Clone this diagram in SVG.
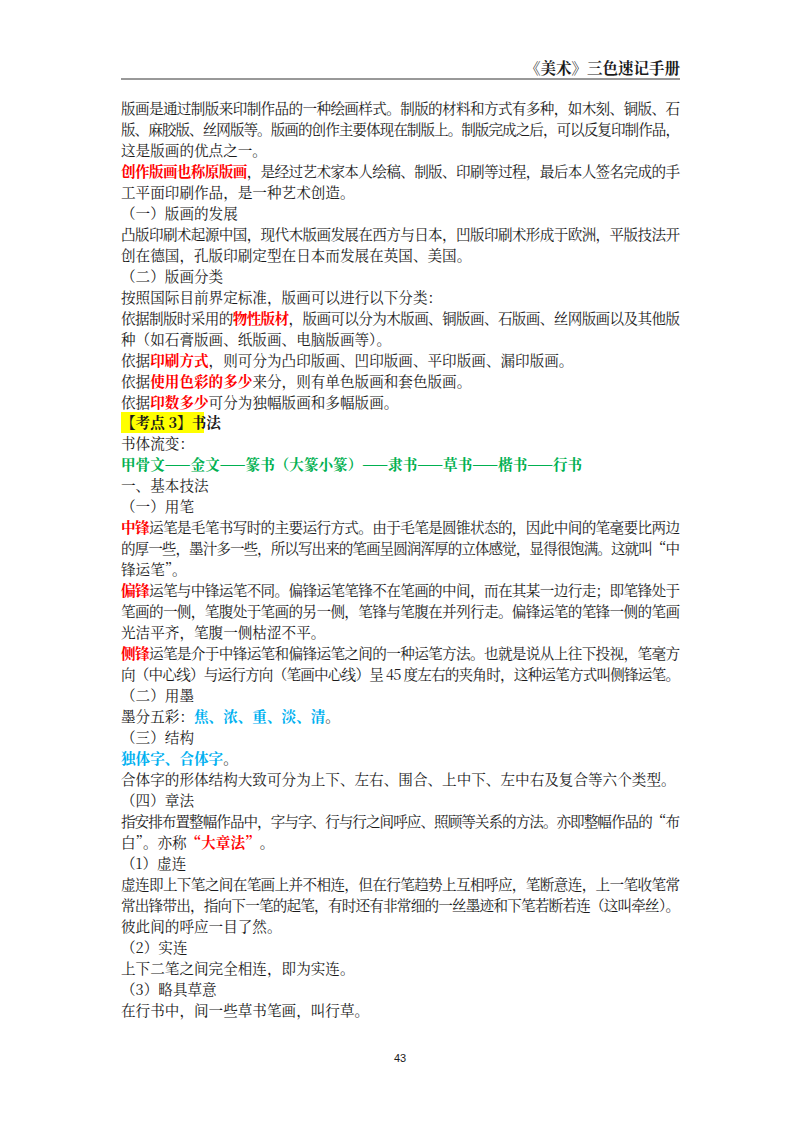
<svg xmlns="http://www.w3.org/2000/svg" width="800" height="1132" viewBox="0 0 800 1132">
<style>
text{font-family:"Noto Serif CJK SC","Noto Sans CJK SC",serif;font-size:14.6px;fill:#1a1a1a}
.r{fill:#ff0000;font-weight:bold}
.g{fill:#00b050;font-weight:bold}
.b{fill:#00b0f0;font-weight:bold}
.k{font-weight:bold}
</style>
<rect width="800" height="1132" fill="#fff"/>
<g id="header">
<text x="680" y="74" text-anchor="end" class="k" style="font-size:15.5px">《美术》三色速记手册</text>
<line x1="121" y1="79" x2="680" y2="79" stroke="#333" stroke-width="1"/>
</g>
<rect x="121" y="412" width="83" height="21" fill="#ffff00"/>
<g id="body">
<text x="121" y="114" textLength="559" lengthAdjust="spacing">版画是通过制版来印制作品的一种绘画样式。制版的材料和方式有多种，如木刻、铜版、石</text>
<text x="121" y="135" textLength="559" lengthAdjust="spacing">版、麻胶版、丝网版等。版画的创作主要体现在制版上。制版完成之后，可以反复印制作品，</text>
<text x="121" y="156">这是版画的优点之一。</text>
<text x="121" y="177" textLength="559" lengthAdjust="spacing"><tspan class="r">创作版画也称原版画</tspan>，是经过艺术家本人绘稿、制版、印刷等过程，最后本人签名完成的手</text>
<text x="121" y="198">工平面印刷作品，是一种艺术创造。</text>
<text x="121" y="219">（一）版画的发展</text>
<text x="121" y="240" textLength="559" lengthAdjust="spacing">凸版印刷术起源中国，现代木版画发展在西方与日本，凹版印刷术形成于欧洲，平版技法开</text>
<text x="121" y="261">创在德国，孔版印刷定型在日本而发展在英国、美国。</text>
<text x="121" y="282">（二）版画分类</text>
<text x="121" y="303">按照国际目前界定标准，版画可以进行以下分类：</text>
<text x="121" y="324" textLength="559" lengthAdjust="spacing">依据制版时采用的<tspan class="r">物性版材</tspan>，版画可以分为木版画、铜版画、石版画、丝网版画以及其他版</text>
<text x="121" y="345">种（如石膏版画、纸版画、电脑版画等）。</text>
<text x="121" y="366">依据<tspan class="r">印刷方式</tspan>，则可分为凸印版画、凹印版画、平印版画、漏印版画。</text>
<text x="121" y="387">依据<tspan class="r">使用色彩的多少</tspan>来分，则有单色版画和套色版画。</text>
<text x="121" y="408">依据<tspan class="r">印数多少</tspan>可分为独幅版画和多幅版画。</text>
<text x="121" y="428" class="k">【考点 3】书法</text>
<text x="121" y="449">书体流变：</text>
<text x="121" y="470" class="g">甲骨文——金文——篆书（大篆小篆）——隶书——草书——楷书——行书</text>
<text x="121" y="491">一、基本技法</text>
<text x="121" y="512">（一）用笔</text>
<text x="121" y="533" textLength="559" lengthAdjust="spacing"><tspan class="r">中锋</tspan>运笔是毛笔书写时的主要运行方式。由于毛笔是圆锥状态的，因此中间的笔毫要比两边</text>
<text x="121" y="554" textLength="559" lengthAdjust="spacing">的厚一些，墨汁多一些，所以写出来的笔画呈圆润浑厚的立体感觉，显得很饱满。这就叫“中</text>
<text x="121" y="575">锋运笔”。</text>
<text x="121" y="596" textLength="559" lengthAdjust="spacing"><tspan class="r">偏锋</tspan>运笔与中锋运笔不同。偏锋运笔笔锋不在笔画的中间，而在其某一边行走；即笔锋处于</text>
<text x="121" y="617" textLength="559" lengthAdjust="spacing">笔画的一侧，笔腹处于笔画的另一侧，笔锋与笔腹在并列行走。偏锋运笔的笔锋一侧的笔画</text>
<text x="121" y="638">光洁平齐，笔腹一侧枯涩不平。</text>
<text x="121" y="659" textLength="559" lengthAdjust="spacing"><tspan class="r">侧锋</tspan>运笔是介于中锋运笔和偏锋运笔之间的一种运笔方法。也就是说从上往下投视，笔毫方</text>
<text x="121" y="680" textLength="559" lengthAdjust="spacing">向（中心线）与运行方向（笔画中心线）呈 45 度左右的夹角时，这种运笔方式叫侧锋运笔。</text>
<text x="121" y="701">（二）用墨</text>
<text x="121" y="722">墨分五彩：<tspan class="b">焦、浓、重、淡、清</tspan>。</text>
<text x="121" y="743">（三）结构</text>
<text x="121" y="764" class="b">独体字、合体字<tspan style="fill:#1a1a1a;font-weight:normal">。</tspan></text>
<text x="121" y="785">合体字的形体结构大致可分为上下、左右、围合、上中下、左中右及复合等六个类型。</text>
<text x="121" y="806">（四）章法</text>
<text x="121" y="827" textLength="559" lengthAdjust="spacing">指安排布置整幅作品中，字与字、行与行之间呼应、照顾等关系的方法。亦即整幅作品的“布</text>
<text x="121" y="848">白”。亦称<tspan class="r">“大章法”</tspan>。</text>
<text x="121" y="869">（1）虚连</text>
<text x="121" y="890" textLength="559" lengthAdjust="spacing">虚连即上下笔之间在笔画上并不相连，但在行笔趋势上互相呼应，笔断意连，上一笔收笔常</text>
<text x="121" y="911" textLength="559" lengthAdjust="spacing">常出锋带出，指向下一笔的起笔，有时还有非常细的一丝墨迹和下笔若断若连（这叫牵丝）。</text>
<text x="121" y="932">彼此间的呼应一目了然。</text>
<text x="121" y="953">（2）实连</text>
<text x="121" y="974">上下二笔之间完全相连，即为实连。</text>
<text x="121" y="995">（3）略具草意</text>
<text x="121" y="1016">在行书中，间一些草书笔画，叫行草。</text>
</g>
<text x="400" y="1062" text-anchor="middle" style="font-size:11px;font-family:'Liberation Sans',sans-serif">43</text>
</svg>
